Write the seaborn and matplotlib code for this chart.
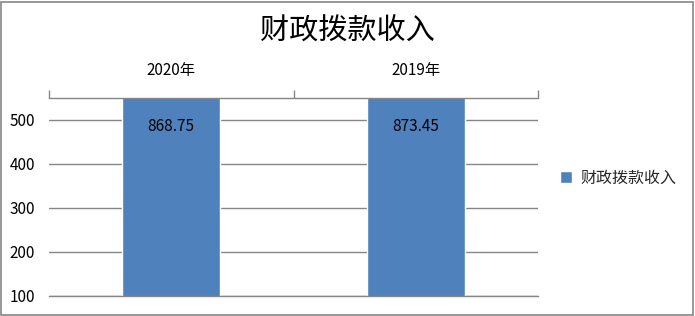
import matplotlib
matplotlib.use("Agg")
import matplotlib.pyplot as plt
import matplotlib.transforms as mtransforms
from matplotlib.patches import Rectangle
import pandas as pd
import seaborn as sns

# Chart data
categories = ["2020年", "2019年"]
values = [868.75, 873.45]
series_name = "财政拨款收入"
y_ticks = [100, 200, 300, 400, 500]

sns.set_theme(style="white")
plt.rcParams["font.family"] = ["Noto Sans CJK SC", "DejaVu Sans"]

BAR_COLOR = "#4F81BD"
GRID_COLOR = "#868686"

df = pd.DataFrame({"年份": categories, "金额": values, "系列": [series_name] * len(categories)})

fig = plt.figure(figsize=(6.95, 3.16), dpi=100)
ax = fig.add_axes([49 / 695, 1 - 296 / 316, (538 - 49) / 695, (296 - 98) / 316])

sns.barplot(data=df, x="年份", y="金额", hue="系列", palette=[BAR_COLOR],
            width=0.4, ax=ax, saturation=1, legend=True)

ax.set_ylim(100, 550)
ax.set_xlim(-0.5, len(categories) - 0.5)
ax.set_yticks(y_ticks)
ax.set_xlabel("")
ax.set_ylabel("")

# horizontal gridlines
ax.yaxis.grid(True, color=GRID_COLOR, linewidth=1)
ax.set_axisbelow(True)

for side in ["left", "right"]:
    ax.spines[side].set_visible(False)
for side in ["top", "bottom"]:
    ax.spines[side].set_visible(True)
    ax.spines[side].set_color(GRID_COLOR)
    ax.spines[side].set_linewidth(1)

# category axis along the top, tick marks at category boundaries
ax.xaxis.tick_top()
ax.set_xticks(range(len(categories)))
ax.set_xticklabels(categories, fontsize=11, color="black")
ax.tick_params(axis="x", which="major", length=0, pad=14)
ax.set_xticks([i - 0.5 for i in range(len(categories) + 1)], minor=True)
ax.tick_params(axis="x", which="minor", length=6, width=1, color=GRID_COLOR, top=True, bottom=False)

ax.tick_params(axis="y", length=0, pad=10, labelsize=11, labelcolor="black")

# value labels inside the top end of each (clipped) bar
trans = mtransforms.blended_transform_factory(ax.transData, ax.transAxes)
for i, v in enumerate(values):
    ax.text(i, 0.855, f"{v:.2f}", transform=trans, ha="center", va="center",
            fontsize=11, color="black")

ax.set_title("")
fig.text(0.5, 1 - 32 / 316, series_name, ha="center", va="center", fontsize=21, color="black")

leg = ax.legend(loc="center left", bbox_to_anchor=(560 / 695, 1 - 178 / 316),
                bbox_transform=fig.transFigure, frameon=False, fontsize=11.5,
                handlelength=0.75, handleheight=0.75, handletextpad=0.5,
                borderaxespad=0, borderpad=0)

# outer chart border
fig.patches.append(Rectangle((1 / 695, 1 / 316), 692 / 695, 313 / 316,
                             transform=fig.transFigure, fill=False,
                             edgecolor=GRID_COLOR, linewidth=1.2))

fig.savefig("out.png", dpi=100, facecolor="white")
